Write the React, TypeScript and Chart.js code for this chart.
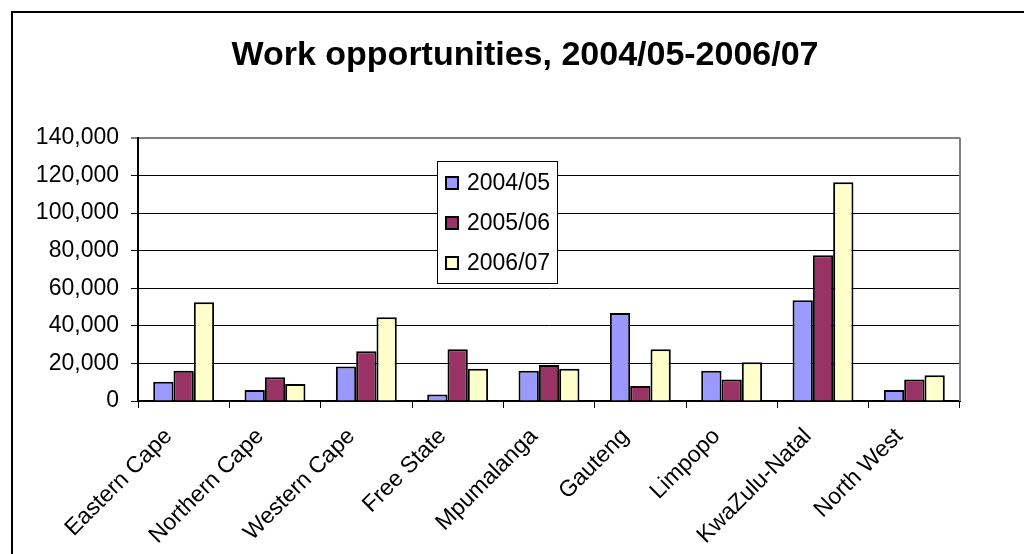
import React, { useEffect, useRef } from "react";
import { Chart, registerables } from "chart.js";

Chart.register(...registerables);

const TITLE = "Work opportunities, 2004/05-2006/07";
const CATEGORIES = [
  "Eastern Cape",
  "Northern Cape",
  "Western Cape",
  "Free State",
  "Mpumalanga",
  "Gauteng",
  "Limpopo",
  "KwaZulu-Natal",
  "North West",
];
const SERIES_NAMES = ["2004/05", "2005/06", "2006/07"];
const VALUES_2004_05 = [10300, 5800, 18300, 3400, 16100, 46800, 16100, 53600, 5800];
const VALUES_2005_06 = [16100, 12600, 26400, 27500, 19200, 8000, 11500, 77500, 11500];
const VALUES_2006_07 = [52500, 9000, 44500, 17200, 17200, 27500, 20600, 116400, 13700];
const Y_TICKS = [0, 20000, 40000, 60000, 80000, 100000, 120000, 140000];
const COLORS = ["#9999FF", "#993366", "#FFFFCC"];

const FONT = '"Liberation Sans", Arial, sans-serif';
const PAD_LEFT = 30;
const PAD_RIGHT = 4;

const framePlugin = {
  id: "frameAndLegend",
  beforeDraw(chart: any) {
    const ctx = chart.ctx;
    ctx.save();
    ctx.fillStyle = "#ffffff";
    ctx.fillRect(0, 0, chart.width, chart.height);
    ctx.strokeStyle = "#000000";
    ctx.lineWidth = 2;
    ctx.beginPath();
    ctx.moveTo(12, chart.height + 5);
    ctx.lineTo(12, 12);
    ctx.lineTo(chart.width + 5, 12);
    ctx.stroke();
    ctx.restore();
  },
  afterDatasetsDraw(chart: any) {
    const ctx = chart.ctx;
    const a = chart.chartArea;
    ctx.save();
    // right border of plot area (grey)
    ctx.strokeStyle = "#808080";
    ctx.lineWidth = 2;
    ctx.beginPath();
    ctx.moveTo(a.right, a.top);
    ctx.lineTo(a.right, a.bottom);
    ctx.stroke();
    // legend
    const bx = 437.5, by = 161.5, bw = 120, bh = 122;
    ctx.fillStyle = "#ffffff";
    ctx.fillRect(bx, by, bw, bh);
    ctx.strokeStyle = "#000000";
    ctx.lineWidth = 1;
    ctx.strokeRect(bx, by, bw, bh);
    ctx.font = "23px " + FONT;
    ctx.textBaseline = "middle";
    ctx.textAlign = "left";
    const rows = [183, 223, 263];
    chart.data.datasets.forEach((ds: any, i: number) => {
      const cy = rows[i];
      ctx.fillStyle = ds.backgroundColor;
      ctx.fillRect(446, cy - 6, 12, 12);
      ctx.strokeStyle = "#000000";
      ctx.lineWidth = 2;
      ctx.strokeRect(446, cy - 6, 12, 12);
      ctx.fillStyle = "#000000";
      ctx.fillText(ds.label, 467, cy + 1);
    });
    ctx.restore();
  },
};

export default function App() {
  const ref = useRef<HTMLCanvasElement | null>(null);
  useEffect(() => {
    if (!ref.current) return;
    const seriesData = [VALUES_2004_05, VALUES_2005_06, VALUES_2006_07];
    const chart = new Chart(ref.current, {
      type: "bar",
      data: {
        labels: CATEGORIES,
        datasets: SERIES_NAMES.map((name, i) => ({
          label: name,
          data: seriesData[i],
          backgroundColor: COLORS[i],
          borderColor: "#000000",
          borderWidth: 2,
          categoryPercentage: 0.667,
          barPercentage: 1,
        })),
      },
      options: {
        responsive: false,
        animation: false,
        devicePixelRatio: 1,
        layout: { padding: { left: PAD_LEFT, right: PAD_RIGHT, top: 0, bottom: 0 } },
        plugins: {
          legend: { display: false },
          tooltip: { enabled: false },
          title: {
            display: true,
            text: TITLE,
            color: "#000000",
            font: { family: FONT, size: 34, weight: "bold", lineHeight: 1.2 },
            padding: { top: 35, bottom: 62 },
          },
        },
        scales: {
          x: {
            grid: {
              offset: true,
              drawOnChartArea: false,
              drawTicks: true,
              tickLength: 7,
              color: "#000000",
            },
            border: { color: "#000000", width: 2 },
            ticks: {
              color: "#000000",
              font: { family: FONT, size: 23 },
              maxRotation: 45,
              minRotation: 45,
              autoSkip: false,
              padding: 15,
              labelOffset: -15,
            },
            afterFit(scale: any) {
              scale.height = 554 - 401;
            },
          },
          y: {
            min: 0,
            max: 140000,
            afterBuildTicks(scale: any) {
              scale.ticks = Y_TICKS.map((v) => ({ value: v }));
            },
            grid: {
              color: (c: any) => (c.tick && c.tick.value === 140000 ? "#808080" : "#000000"),
              lineWidth: (c: any) => (c.tick && c.tick.value === 140000 ? 2 : 1),
              drawTicks: true,
              tickLength: 7,
            },
            border: { color: "#000000", width: 2 },
            ticks: {
              color: "#000000",
              font: { family: FONT, size: 23 },
              padding: 12,
              callback: (v: any) => Number(v).toLocaleString("en-US"),
            },
            afterFit(scale: any) {
              scale.width = 138 - PAD_LEFT;
            },
          },
          spacer: {
            type: "linear",
            position: "right",
            display: true,
            grid: { display: false, drawOnChartArea: false, drawTicks: false },
            border: { display: false },
            ticks: { display: false },
            afterFit(scale: any) {
              scale.width = 1024 - PAD_RIGHT - 960;
            },
          },
        },
      },
      plugins: [framePlugin],
    });
    return () => chart.destroy();
  }, []);
  return (
    <div style={{ position: "fixed", left: 0, top: 0, width: 1024, height: 554, background: "#fff" }}>
      <canvas ref={ref} width={1024} height={554} style={{ display: "block" }} />
    </div>
  );
}
